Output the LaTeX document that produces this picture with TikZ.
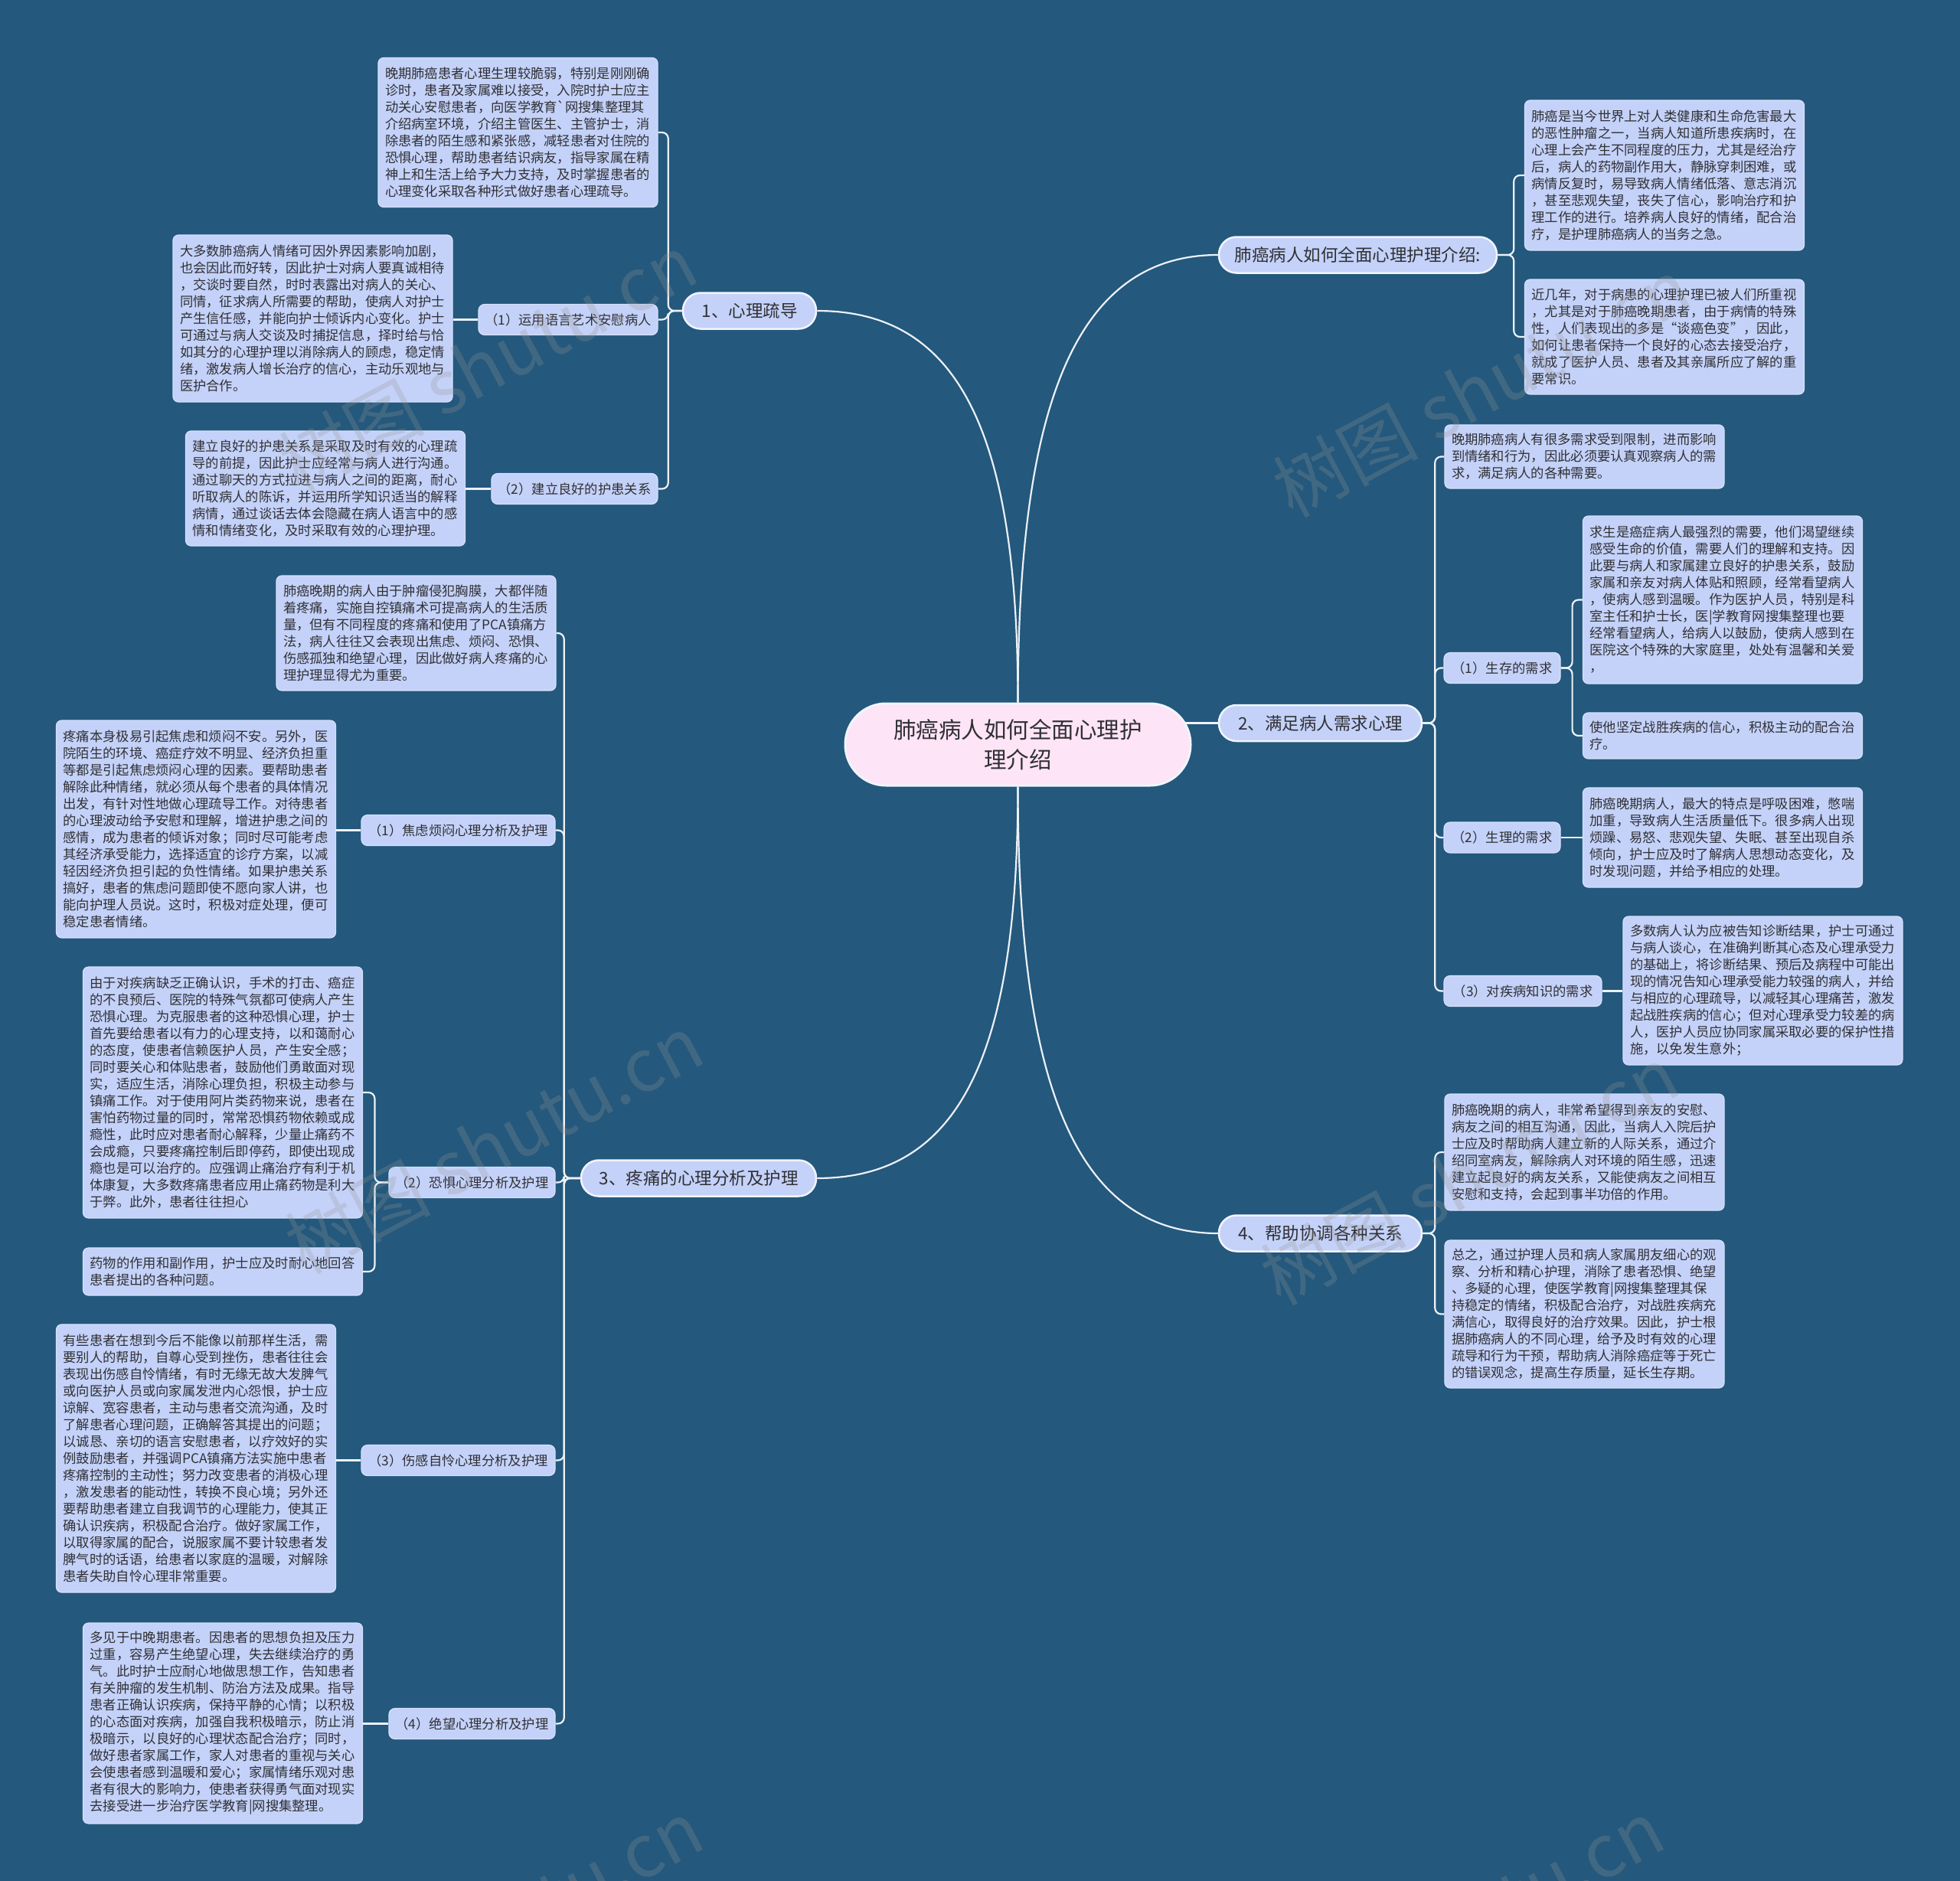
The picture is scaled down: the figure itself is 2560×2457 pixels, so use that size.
\documentclass[tikz,border=0pt]{standalone}
\usepackage{fontspec}
\newfontfamily\cjk{Noto Sans CJK SC}
\usetikzlibrary{calc}
\definecolor{bgcol}{RGB}{36,88,124}
\definecolor{boxcol}{RGB}{196,210,249}
\definecolor{boxedge}{RGB}{214,225,252}
\definecolor{txtcol}{RGB}{48,48,52}
\definecolor{linecol}{RGB}{236,241,248}
\definecolor{ctrfill}{RGB}{253,228,247}
\definecolor{mainedge}{RGB}{240,244,252}
\definecolor{wmcol}{RGB}{150,150,150}
\pgfdeclarelayer{bg}
\pgfsetlayers{bg,main}
\begin{document}
\begin{tikzpicture}[x=1pt,y=-1pt,
  leaf/.style={rectangle, rounded corners=7pt, fill=boxcol, draw=boxedge, line width=1.2pt,
    text=txtcol, font=\cjk\fontsize{17.3}{22}\selectfont, align=left,
    text width=347pt, inner xsep=9pt, inner ysep=8pt},
  lab/.style={rectangle, rounded corners=8pt, fill=boxcol, draw=boxedge, line width=1.2pt,
    text=txtcol, font=\cjk\fontsize{17.3}{22}\selectfont, inner xsep=0pt, minimum height=40pt},
  mainnode/.style={rectangle, rounded corners=23pt, fill=boxcol, draw=mainedge, line width=2.5pt,
    text=txtcol, font=\cjk\fontsize{22.5}{26}\selectfont, minimum height=47pt, inner xsep=0pt},
  ctrnode/.style={rectangle, rounded corners=53pt, fill=ctrfill, draw=mainedge, line width=3pt,
    text=txtcol, font=\cjk\fontsize{29.5}{39}\selectfont, align=center,
    minimum width=451pt, minimum height=107pt},
  conn/.style={draw=linecol, line width=2.2pt, rounded corners=8pt},
  wm/.style={text=wmcol, text opacity=0.26, font=\cjk\fontsize{95}{95}\selectfont, rotate=28}
]
\begin{pgfonlayer}{bg}
\fill[bgcol] (0,0) rectangle (2560,2457);
\end{pgfonlayer}
\useasboundingbox (0,0) rectangle (2560,2457);
\clip (0,0) rectangle (2560,2457);

% centre
\node[ctrnode] (ctr) at (1329.5,972.5) {肺癌病人如何全面心理护\\理介绍};

% main branches
\node[mainnode, minimum width=363pt] (n0) at (1773.5,333) {肺癌病人如何全面心理护理介绍:};
\node[mainnode, minimum width=174pt] (n1) at (979,406) {1、心理疏导};
\node[mainnode, minimum width=265pt] (n2) at (1724.5,944.5) {2、满足病人需求心理};
\node[mainnode, minimum width=307pt] (n3) at (912.5,1539) {3、疼痛的心理分析及护理};
\node[mainnode, minimum width=265pt] (n4) at (1724.5,1611) {4、帮助协调各种关系};

% labels
\node[lab, minimum width=234pt] (l11) at (742,417.5) {（1）运用语言艺术安慰病人};
\node[lab, minimum width=217pt] (l12) at (750.5,638.5) {（2）建立良好的护患关系};
\node[lab, minimum width=253pt] (l31) at (598.5,1084.5) {（1）焦虑烦闷心理分析及护理};
\node[lab, minimum width=217pt] (l32) at (616.5,1544.5) {（2）恐惧心理分析及护理};
\node[lab, minimum width=253pt] (l33) at (598.5,1907.5) {（3）伤感自怜心理分析及护理};
\node[lab, minimum width=217pt] (l34) at (616.5,2251.5) {（4）绝望心理分析及护理};
\node[lab, minimum width=152pt] (l21) at (1962,872.5) {（1）生存的需求};
\node[lab, minimum width=152pt] (l22) at (1962,1094) {（2）生理的需求};
\node[lab, minimum width=206pt] (l23) at (1989,1294.5) {（3）对疾病知识的需求};

% leaf boxes, left
\node[leaf, minimum height=195pt] (A) at (676.5,173) {晚期肺癌患者心理生理较脆弱，特别是刚刚确\\诊时，患者及家属难以接受，入院时护士应主\\动关心安慰患者，向医学教育`网搜集整理其\\介绍病室环境，介绍主管医生、主管护士，消\\除患者的陌生感和紧张感，减轻患者对住院的\\恐惧心理，帮助患者结识病友，指导家属在精\\神上和生活上给予大力支持，及时掌握患者的\\心理变化采取各种形式做好患者心理疏导。};
\node[leaf, minimum height=218pt] (B) at (408.5,416) {大多数肺癌病人情绪可因外界因素影响加剧，\\也会因此而好转，因此护士对病人要真诚相待\\，交谈时要自然，时时表露出对病人的关心、\\同情，征求病人所需要的帮助，使病人对护士\\产生信任感，并能向护士倾诉内心变化。护士\\可通过与病人交谈及时捕捉信息，择时给与恰\\如其分的心理护理以消除病人的顾虑，稳定情\\绪，激发病人增长治疗的信心，主动乐观地与\\医护合作。};
\node[leaf, minimum height=150pt] (C) at (425,638) {建立良好的护患关系是采取及时有效的心理疏\\导的前提，因此护士应经常与病人进行沟通。\\通过聊天的方式拉进与病人之间的距离，耐心\\听取病人的陈诉，并运用所学知识适当的解释\\病情，通过谈话去体会隐藏在病人语言中的感\\情和情绪变化，及时采取有效的心理护理。};
\node[leaf, minimum height=150pt] (D) at (543.5,827) {肺癌晚期的病人由于肿瘤侵犯胸膜，大都伴随\\着疼痛，实施自控镇痛术可提高病人的生活质\\量，但有不同程度的疼痛和使用了PCA镇痛方\\法，病人往往又会表现出焦虑、烦闷、恐惧、\\伤感孤独和绝望心理，因此做好病人疼痛的心\\理护理显得尤为重要。};
\node[leaf, minimum height=284pt] (E) at (256,1083) {疼痛本身极易引起焦虑和烦闷不安。另外，医\\院陌生的环境、癌症疗效不明显、经济负担重\\等都是引起焦虑烦闷心理的因素。要帮助患者\\解除此种情绪，就必须从每个患者的具体情况\\出发，有针对性地做心理疏导工作。对待患者\\的心理波动给予安慰和理解，增进护患之间的\\感情，成为患者的倾诉对象；同时尽可能考虑\\其经济承受能力，选择适宜的诊疗方案，以减\\轻因经济负担引起的负性情绪。如果护患关系\\搞好，患者的焦虑问题即使不愿向家人讲，也\\能向护理人员说。这时，积极对症处理，便可\\稳定患者情绪。};
\node[leaf, minimum height=328pt] (F) at (291,1427) {由于对疾病缺乏正确认识，手术的打击、癌症\\的不良预后、医院的特殊气氛都可使病人产生\\恐惧心理。为克服患者的这种恐惧心理，护士\\首先要给患者以有力的心理支持，以和蔼耐心\\的态度，使患者信赖医护人员，产生安全感；\\同时要关心和体贴患者，鼓励他们勇敢面对现\\实，适应生活，消除心理负担，积极主动参与\\镇痛工作。对于使用阿片类药物来说，患者在\\害怕药物过量的同时，常常恐惧药物依赖或成\\瘾性，此时应对患者耐心解释，少量止痛药不\\会成瘾，只要疼痛控制后即停药，即使出现成\\瘾也是可以治疗的。应强调止痛治疗有利于机\\体康复，大多数疼痛患者应用止痛药物是利大\\于弊。此外，患者往往担心};
\node[leaf, minimum height=62pt] (G) at (291,1661) {药物的作用和副作用，护士应及时耐心地回答\\患者提出的各种问题。};
\node[leaf, minimum height=350pt] (H) at (256,1905) {有些患者在想到今后不能像以前那样生活，需\\要别人的帮助，自尊心受到挫伤，患者往往会\\表现出伤感自怜情绪，有时无缘无故大发脾气\\或向医护人员或向家属发泄内心怨恨，护士应\\谅解、宽容患者，主动与患者交流沟通，及时\\了解患者心理问题，正确解答其提出的问题；\\以诚恳、亲切的语言安慰患者，以疗效好的实\\例鼓励患者，并强调PCA镇痛方法实施中患者\\疼痛控制的主动性；努力改变患者的消极心理\\，激发患者的能动性，转换不良心境；另外还\\要帮助患者建立自我调节的心理能力，使其正\\确认识疾病，积极配合治疗。做好家属工作，\\以取得家属的配合，说服家属不要计较患者发\\脾气时的话语，给患者以家庭的温暖，对解除\\患者失助自怜心理非常重要。};
\node[leaf, minimum height=262pt] (I) at (291,2251) {多见于中晚期患者。因患者的思想负担及压力\\过重，容易产生绝望心理，失去继续治疗的勇\\气。此时护士应耐心地做思想工作，告知患者\\有关肿瘤的发生机制、防治方法及成果。指导\\患者正确认识疾病，保持平静的心情；以积极\\的心态面对疾病，加强自我积极暗示，防止消\\极暗示，以良好的心理状态配合治疗；同时，\\做好患者家属工作，家人对患者的重视与关心\\会使患者感到温暖和爱心；家属情绪乐观对患\\者有很大的影响力，使患者获得勇气面对现实\\去接受进一步治疗医学教育|网搜集整理。};

% leaf boxes, right
\node[leaf, minimum height=196pt] (J) at (2174,229) {肺癌是当今世界上对人类健康和生命危害最大\\的恶性肿瘤之一，当病人知道所患疾病时，在\\心理上会产生不同程度的压力，尤其是经治疗\\后，病人的药物副作用大，静脉穿刺困难，或\\病情反复时，易导致病人情绪低落、意志消沉\\，甚至悲观失望，丧失了信心，影响治疗和护\\理工作的进行。培养病人良好的情绪，配合治\\疗，是护理肺癌病人的当务之急。};
\node[leaf, minimum height=150pt] (K) at (2174,440) {近几年，对于病患的心理护理已被人们所重视\\，尤其是对于肺癌晚期患者，由于病情的特殊\\性，人们表现出的多是“谈癌色变”，因此，\\如何让患者保持一个良好的心态去接受治疗，\\就成了医护人员、患者及其亲属所应了解的重\\要常识。};
\node[leaf, minimum height=83pt] (L) at (2069.5,596.5) {晚期肺癌病人有很多需求受到限制，进而影响\\到情绪和行为，因此必须要认真观察病人的需\\求，满足病人的各种需要。};
\node[leaf, minimum height=219pt] (M) at (2250,783.5) {求生是癌症病人最强烈的需要，他们渴望继续\\感受生命的价值，需要人们的理解和支持。因\\此要与病人和家属建立良好的护患关系，鼓励\\家属和亲友对病人体贴和照顾，经常看望病人\\，使病人感到温暖。作为医护人员，特别是科\\室主任和护士长，医|学教育网搜集整理也要\\经常看望病人，给病人以鼓励，使病人感到在\\医院这个特殊的大家庭里，处处有温馨和关爱\\，};
\node[leaf, minimum height=60pt] (N) at (2250,961) {使他坚定战胜疾病的信心，积极主动的配合治\\疗。};
\node[leaf, minimum height=130pt] (O) at (2250,1094) {肺癌晚期病人，最大的特点是呼吸困难，憋喘\\加重，导致病人生活质量低下。很多病人出现\\烦躁、易怒、悲观失望、失眠、甚至出现自杀\\倾向，护士应及时了解病人思想动态变化，及\\时发现问题，并给予相应的处理。};
\node[leaf, minimum height=194pt] (P) at (2302.5,1294) {多数病人认为应被告知诊断结果，护士可通过\\与病人谈心，在准确判断其心态及心理承受力\\的基础上，将诊断结果、预后及病程中可能出\\现的情况告知心理承受能力较强的病人，并给\\与相应的心理疏导，以减轻其心理痛苦，激发\\起战胜疾病的信心；但对心理承受力较差的病\\人，医护人员应协同家属采取必要的保护性措\\施，以免发生意外；};
\node[leaf, minimum height=152pt] (Q) at (2069.5,1505) {肺癌晚期的病人，非常希望得到亲友的安慰、\\病友之间的相互沟通，因此，当病人入院后护\\士应及时帮助病人建立新的人际关系，通过介\\绍同室病友，解除病人对环境的陌生感，迅速\\建立起良好的病友关系，又能使病友之间相互\\安慰和支持，会起到事半功倍的作用。};
\node[leaf, minimum height=193pt] (R) at (2069.5,1716.5) {总之，通过护理人员和病人家属朋友细心的观\\察、分析和精心护理，消除了患者恐惧、绝望\\、多疑的心理，使医学教育|网搜集整理其保\\持稳定的情绪，积极配合治疗，对战胜疾病充\\满信心，取得良好的治疗效果。因此，护士根\\据肺癌病人的不同心理，给予及时有效的心理\\疏导和行为干预，帮助病人消除癌症等于死亡\\的错误观念，提高生存质量，延长生存期。};

% connectors
\begin{pgfonlayer}{bg}
\draw[conn] (ctr.north) .. controls (1329.5,540) and (1400,333) .. (n0.west);
\draw[conn] (ctr.north) .. controls (1329.5,560) and (1250,406) .. (n1.east);
\draw[conn] ($(ctr.east |- n2.west)+(-12,0)$) -- (n2.west);
\draw[conn] (ctr.south) .. controls (1329.5,1385) and (1250,1539) .. (n3.east);
\draw[conn] (ctr.south) .. controls (1329.5,1405) and (1400,1611) .. (n4.west);

\draw[conn] (n0.east) -- ++(21,0) |- (J.west);
\draw[conn] (n0.east) -- ++(21,0) |- (K.west);

\draw[conn] (n1.west) -- ++(-18,0) |- (A.east);
\draw[conn] (n1.west) -- ++(-18,0) |- (l11.east);
\draw[conn] (n1.west) -- ++(-18,0) |- (l12.east);
\draw[conn] (l11.west) -- (l11.west -| B.east);
\draw[conn] (l12.west) -- (l12.west -| C.east);

\draw[conn] (n2.east) -- ++(16,0) |- (L.west);
\draw[conn] (n2.east) -- ++(16,0) |- (l21.west);
\draw[conn] (n2.east) -- ++(16,0) |- (l22.west);
\draw[conn] (n2.east) -- ++(16,0) |- (l23.west);
\draw[conn] (l21.east) -- ++(15,0) |- (M.west);
\draw[conn] (l21.east) -- ++(15,0) |- (N.west);
\draw[conn] (l22.east) -- (l22.east -| O.west);
\draw[conn] (l23.east) -- (l23.east -| P.west);

\draw[conn] (n3.west) -- ++(-21,0) |- (D.east);
\draw[conn] (n3.west) -- ++(-21,0) |- (l31.east);
\draw[conn] (n3.west) -- ++(-21,0) |- (l32.east);
\draw[conn] (n3.west) -- ++(-21,0) |- (l33.east);
\draw[conn] (n3.west) -- ++(-21,0) |- (l34.east);
\draw[conn] (l31.west) -- (l31.west -| E.east);
\draw[conn] (l32.west) -- ++(-18,0) |- (F.east);
\draw[conn] (l32.west) -- ++(-18,0) |- (G.east);
\draw[conn] (l33.west) -- (l33.west -| H.east);
\draw[conn] (l34.west) -- (l34.west -| I.east);

\draw[conn] (n4.east) -- ++(16,0) |- (Q.west);
\draw[conn] (n4.east) -- ++(16,0) |- (R.west);
\end{pgfonlayer}

% watermarks
\node[wm] (wm1) at (637,474) {树图 shutu.cn};
\node[wm] (wm2) at (1935,506) {树图 shutu.cn};
\node[wm] (wm3) at (645,1494) {树图 shutu.cn};
\node[wm] (wm4) at (1919,1535) {树图 shutu.cn};
\node[wm] (wm5) at (645,2520) {树图 shutu.cn};
\node[wm] (wm6) at (1900,2520) {树图 shutu.cn};
\end{tikzpicture}
\end{document}
